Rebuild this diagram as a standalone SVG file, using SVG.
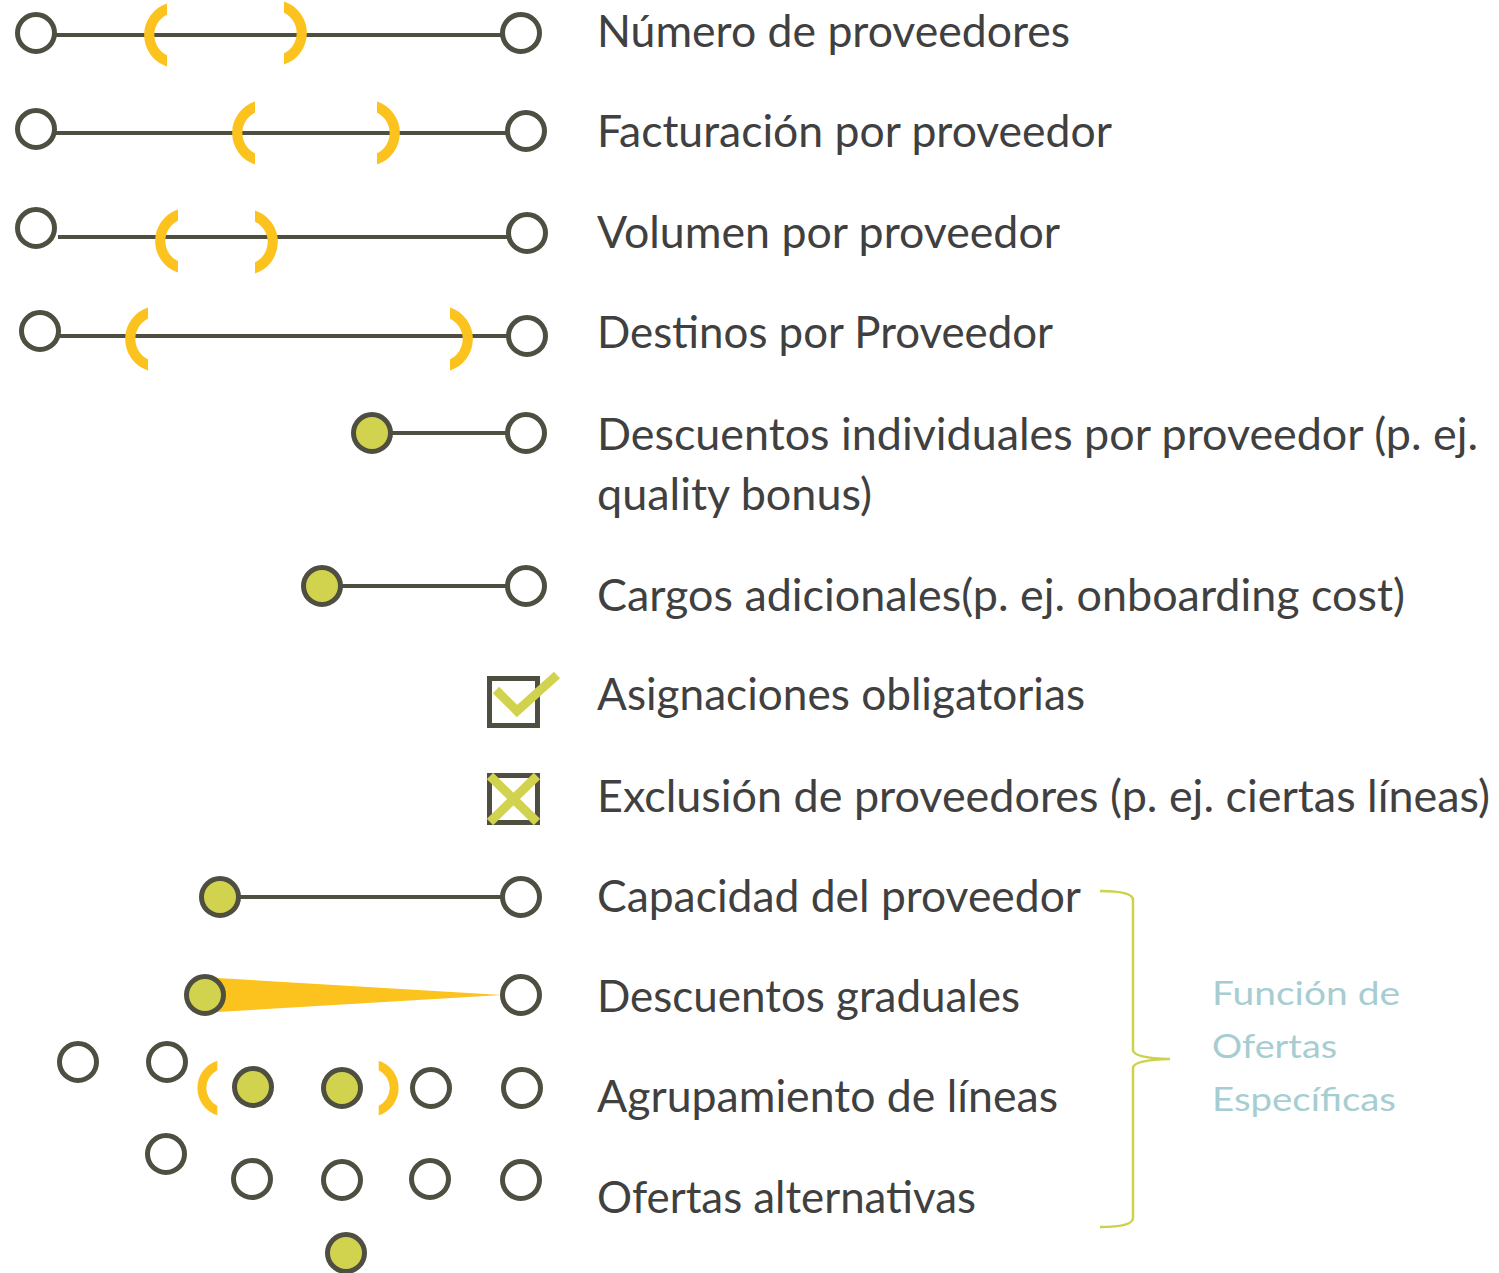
<svg xmlns="http://www.w3.org/2000/svg" xmlns:xlink="http://www.w3.org/1999/xlink" width="1499" height="1273" viewBox="0 0 1499 1273">
<style>
.o{fill:#fff;stroke:#4e4e41;stroke-width:5}
.f{fill:#d1d34f;stroke:#4e4e41;stroke-width:5}
.ln{stroke:#4e4e41;stroke-width:4;fill:none}
.br{fill:#fcc31f}
.t{font-family:Lato,"Open Sans","Liberation Sans",sans-serif;font-size:44px;fill:#404040}
.b{font-family:Lato,"Open Sans","Liberation Sans",sans-serif;font-size:33px;fill:#a6cdd1}
.g{stroke:#d1d34f;stroke-width:9;fill:none}
</style>
<defs>
<path id="lb" class="br" d="M-10,-31.4 A33,33 0 0 0 -10,31.4 L-10,20.3 A22.6,22.6 0 0 1 -10,-20.3 Z"/>
</defs>
<rect width="1499" height="1273" fill="#fff"/>
<g id="connectors">
<line class="ln" x1="56" y1="35" x2="502" y2="35"/>
<line class="ln" x1="56" y1="133" x2="507" y2="133"/>
<line class="ln" x1="58" y1="237" x2="507" y2="237"/>
<line class="ln" x1="60" y1="336" x2="507" y2="336"/>
<line class="ln" x1="372" y1="433" x2="507" y2="433"/>
<line class="ln" x1="322" y1="586" x2="507" y2="586"/>
<line class="ln" x1="220" y1="897" x2="502" y2="897"/>
<polygon fill="#fcc31f" points="200,977 502,995 200,1013"/>
</g>
<g id="row1">
<use xlink:href="#lb" transform="translate(177,35)"/>
<use xlink:href="#lb" transform="translate(274,33) scale(-1,1)"/>
<circle class="o" cx="36" cy="33" r="18.5"/>
<circle class="o" cx="521" cy="33" r="18.5"/>
<text class="t" x="597" y="47" textLength="473" lengthAdjust="spacingAndGlyphs">Número de proveedores</text>
</g>
<g id="row2">
<use xlink:href="#lb" transform="translate(265,133)"/>
<use xlink:href="#lb" transform="translate(367,133) scale(-1,1)"/>
<circle class="o" cx="36" cy="129" r="18.5"/>
<circle class="o" cx="526" cy="131" r="18.5"/>
<text class="t" x="597" y="147" textLength="515" lengthAdjust="spacingAndGlyphs">Facturación por proveedor</text>
</g>
<g id="row3">
<use xlink:href="#lb" transform="translate(188,241)"/>
<use xlink:href="#lb" transform="translate(245,242) scale(-1,1)"/>
<circle class="o" cx="36" cy="228" r="18.5"/>
<circle class="o" cx="527" cy="233" r="18.5"/>
<text class="t" x="597" y="248" textLength="463" lengthAdjust="spacingAndGlyphs">Volumen por proveedor</text>
</g>
<g id="row4">
<use xlink:href="#lb" transform="translate(158,339)"/>
<use xlink:href="#lb" transform="translate(440,339) scale(-1,1)"/>
<circle class="o" cx="40" cy="331" r="18.5"/>
<circle class="o" cx="527" cy="336" r="18.5"/>
<text class="t" x="597" y="348" textLength="456" lengthAdjust="spacingAndGlyphs">Destinos por Proveedor</text>
</g>
<g id="row5">
<circle class="f" cx="372" cy="433" r="18.5"/>
<circle class="o" cx="526" cy="433" r="18.5"/>
<text class="t" x="597" y="450" textLength="881" lengthAdjust="spacingAndGlyphs">Descuentos individuales por proveedor (p. ej.</text>
<text class="t" x="597" y="510" textLength="275" lengthAdjust="spacingAndGlyphs">quality bonus)</text>
</g>
<g id="row6">
<circle class="f" cx="322" cy="586" r="18.5"/>
<circle class="o" cx="526" cy="586" r="18.5"/>
<text class="t" x="597" y="611" textLength="808" lengthAdjust="spacingAndGlyphs">Cargos adicionales(p. ej. onboarding cost)</text>
</g>
<g id="row7">
<rect x="489.5" y="678.5" width="48" height="47" fill="none" stroke="#4e4e41" stroke-width="5"/>
<polyline class="g" points="496,690 517,711 557,675"/>
<text class="t" x="597" y="710" textLength="488" lengthAdjust="spacingAndGlyphs">Asignaciones obligatorias</text>
</g>
<g id="row8">
<rect x="489.5" y="775.5" width="48" height="47" fill="none" stroke="#4e4e41" stroke-width="5"/>
<line class="g" x1="490" y1="776" x2="537" y2="822"/>
<line class="g" x1="537" y1="776" x2="490" y2="822"/>
<text class="t" x="597" y="812" textLength="893" lengthAdjust="spacingAndGlyphs">Exclusión de proveedores (p. ej. ciertas líneas)</text>
</g>
<g id="row9">
<circle class="f" cx="220" cy="897" r="18.5"/>
<circle class="o" cx="521" cy="897" r="18.5"/>
<text class="t" x="597" y="912" textLength="484" lengthAdjust="spacingAndGlyphs">Capacidad del proveedor</text>
</g>
<g id="row10">
<circle class="f" cx="205" cy="995" r="18.5"/>
<circle class="o" cx="521" cy="995" r="18.5"/>
<text class="t" x="597" y="1012" textLength="423" lengthAdjust="spacingAndGlyphs">Descuentos graduales</text>
</g>
<g id="row11">
<circle class="o" cx="78" cy="1062" r="18.5"/>
<circle class="o" cx="167" cy="1062" r="18.5"/>
<use xlink:href="#lb" transform="translate(226,1088) scale(0.87)"/>
<use xlink:href="#lb" transform="translate(370,1088) scale(-0.87,0.87)"/>
<circle class="f" cx="253" cy="1087" r="18.5"/>
<circle class="f" cx="342" cy="1088" r="18.5"/>
<circle class="o" cx="431" cy="1088" r="18.5"/>
<circle class="o" cx="522" cy="1088" r="18.5"/>
<text class="t" x="597" y="1112" textLength="461" lengthAdjust="spacingAndGlyphs">Agrupamiento de líneas</text>
</g>
<g id="row12">
<circle class="o" cx="166" cy="1154" r="18.5"/>
<circle class="o" cx="252" cy="1179" r="18.5"/>
<circle class="o" cx="342" cy="1180" r="18.5"/>
<circle class="o" cx="430" cy="1179" r="18.5"/>
<circle class="o" cx="521" cy="1180" r="18.5"/>
<circle class="f" cx="346" cy="1253" r="18.5"/>
<text class="t" x="597" y="1213" textLength="379" lengthAdjust="spacingAndGlyphs">Ofertas alternativas</text>
</g>
<g id="group-brace">
<path d="M1100,891 Q1133,891 1133,900 L1133,1050 Q1133,1058 1170,1059 Q1133,1060 1133,1068 L1133,1218 Q1133,1227 1100,1227" fill="none" stroke="#cdd24b" stroke-width="2.5"/>
<text class="b" x="1212" y="1005" textLength="188" lengthAdjust="spacingAndGlyphs">Función de</text>
<text class="b" x="1212" y="1058" textLength="125" lengthAdjust="spacingAndGlyphs">Ofertas</text>
<text class="b" x="1212" y="1111" textLength="184" lengthAdjust="spacingAndGlyphs">Específicas</text>
</g>
</svg>
